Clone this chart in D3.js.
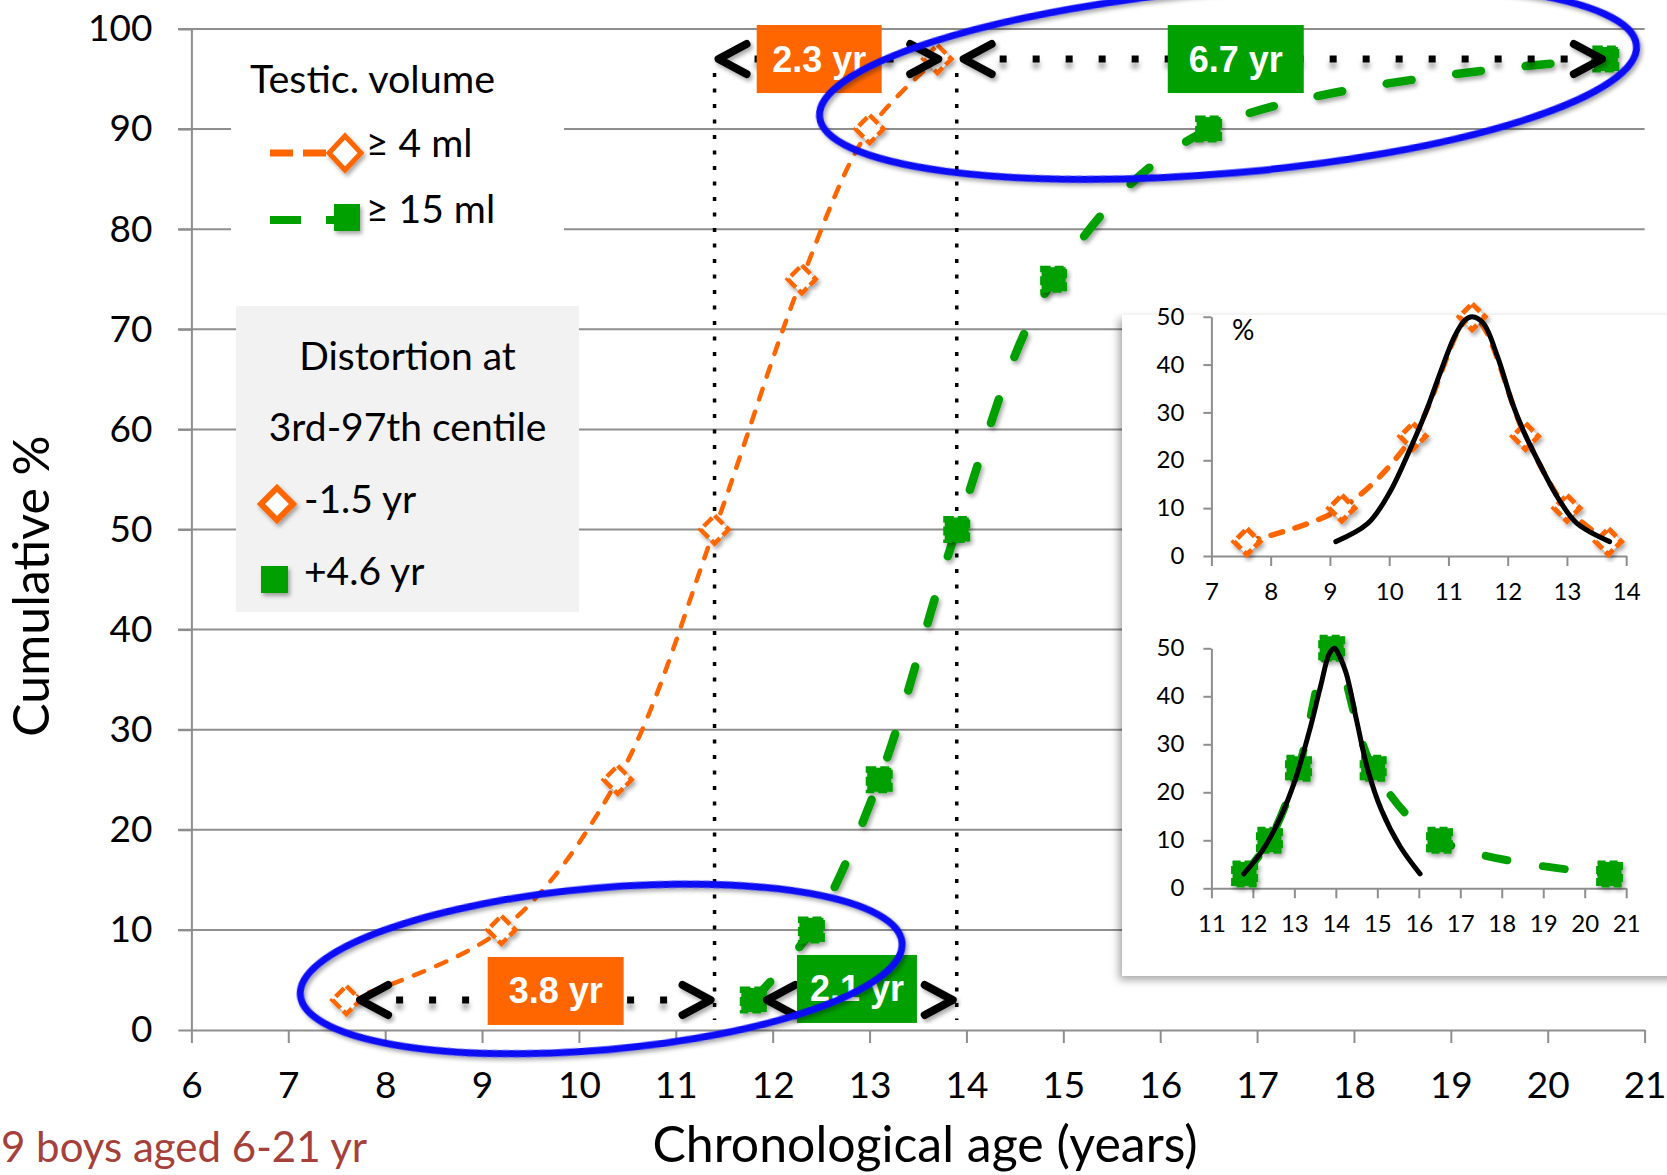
<!DOCTYPE html>
<html><head><meta charset="utf-8">
<script src="https://cdn.jsdelivr.net/npm/d3@7"></script>
<style>
body{margin:0;background:#fff;overflow:hidden}
svg{display:block;font-family:Lato,"Open Sans",sans-serif}
</style>
</head><body>
<svg id="c" width="1667" height="1175"></svg>
<script>
// ---------------- DATA ----------------
const ages4   = [7.6, 9.2, 10.4, 11.4, 12.3, 13.0, 13.7];   // testicular volume >= 4 ml
const cum4    = [3, 10, 25, 50, 75, 90, 97];
const dist4   = [3, 10, 25, 50, 25, 10, 3];
const ages15  = [11.8, 12.4, 13.1, 13.9, 14.9, 16.5, 20.6]; // testicular volume >= 15 ml
const cum15   = [3, 10, 25, 50, 75, 90, 97];
const dist15  = [3, 10, 25, 50, 25, 10, 3];
// fitted (symmetric) curves in the insets
const fitAges4  = [9.1, 9.64, 10.0, 10.37, 10.61, 10.86, 11.1, 11.28, 11.4, 11.59, 11.83, 12.08, 12.26, 12.56, 12.87, 13.17, 13.72];
const fitVals4  = [3, 6.8, 13.1, 22.8, 29.8, 38.2, 45.8, 49.3, 50, 48.6, 41.6, 31.9, 26.3, 18.7, 11.7, 6.8, 3];
const fitAges15 = [11.78, 12.24, 12.67, 13.02, 13.37, 13.63, 13.85, 13.97, 14.08, 14.25, 14.5, 14.77, 15.1, 15.55, 16.03];
const fitVals15 = [3, 8, 14.9, 22.6, 33, 42, 49, 50, 48.5, 44.8, 35, 24.7, 16.3, 8.7, 3];
// span annotations: from age, to age, at cumulative %
const spanFrom  = [7.7, 11.9, 11.4, 13.93];
const spanTo    = [11.4, 13.9, 13.75, 20.6];
const spanLevel = [3, 3, 97, 97];
const spanLabel = ["3.8 yr", "2.1 yr", "2.3 yr", "6.7 yr"];
const spanColor = ["orange", "green", "orange", "green"];
const guideAges = [11.4, 13.9];
// ticks
const xTicks   = [6,7,8,9,10,11,12,13,14,15,16,17,18,19,20,21];
const yTicks   = [0,10,20,30,40,50,60,70,80,90,100];
const in1XTicks = [7,8,9,10,11,12,13,14];
const in2XTicks = [11,12,13,14,15,16,17,18,19,20,21];
const inYTicks  = [0,10,20,30,40,50];
// texts
const legendTitle = "Testic. volume";
const legendItems = ["\u2265 4 ml", "\u2265 15 ml"];
const boxLines = ["Distortion at", "3rd-97th centile"];
const boxItems = ["-1.5 yr", "+4.6 yr"];
const xTitle = "Chronological age (years)";
const yTitle = "Cumulative %";
const footText = "9 boys aged 6-21 yr";

// ---------------- STYLE / LAYOUT ----------------
const ORANGE = "#ff6600", GREEN = "#00a000", BLUE = "#0b0bf5", GRID = "#8e8e8e";
const COL = {orange: ORANGE, green: GREEN};
const FONT = "Lato, 'Open Sans', sans-serif";

const svg = d3.select("#c");
const defs = svg.append("defs");
function shadow(id, dx, dy, sd, op, user) {
  const f = defs.append("filter").attr("id", id);
  if (user) f.attr("filterUnits", "userSpaceOnUse").attr("x", -100).attr("y", -100).attr("width", 1900).attr("height", 1400);
  else f.attr("x", "-30%").attr("y", "-30%").attr("width", "160%").attr("height", "160%");
  f.append("feDropShadow").attr("dx", dx).attr("dy", dy).attr("stdDeviation", sd)
    .attr("flood-color", "#000").attr("flood-opacity", op);
}
shadow("sh", 2, 3, 2, 0.35);
shadow("shBox", -3, 4, 4, 0.35);
shadow("shDots", 0, 6, 2.5, 0.35, true);

const x = d3.scaleLinear().domain([6, 21]).range([191.4, 1644.6]);
const y = d3.scaleLinear().domain([0, 100]).range([1030, 29]);
const intFmt = d3.format("d");

// gridlines
svg.append("g").selectAll("line").data(yTicks.filter(d => d > 0)).join("line")
  .attr("x1", 178).attr("x2", x(21)).attr("y1", d => y(d)).attr("y2", d => y(d))
  .attr("stroke", GRID).attr("stroke-width", 2);

// axes
const yAxis = svg.append("g").attr("transform", `translate(${x(6)},0)`)
  .call(d3.axisLeft(y).tickValues(yTicks).tickFormat(intFmt).tickSize(13).tickPadding(26).tickSizeOuter(0));
const xAxis = svg.append("g").attr("transform", `translate(0,${y(0)})`)
  .call(d3.axisBottom(x).tickValues(xTicks).tickFormat(intFmt).tickSize(13).tickPadding(29).tickSizeOuter(0));
[yAxis, xAxis].forEach(g => {
  g.select(".domain").attr("stroke", GRID).attr("stroke-width", 2);
  g.selectAll(".tick line").attr("stroke", GRID).attr("stroke-width", 2);
  g.selectAll(".tick text").attr("font-family", FONT).attr("font-size", 37).attr("fill", "#000");
});

// axis titles
svg.append("text").attr("x", 925).attr("y", 1162).attr("text-anchor", "middle")
  .attr("font-family", FONT).attr("font-size", 50).text(xTitle);
svg.append("text").attr("transform", "translate(49,586) rotate(-90)").attr("text-anchor", "middle")
  .attr("font-family", FONT).attr("font-size", 50).text(yTitle);
svg.append("text").attr("x", 1).attr("y", 1162).attr("font-family", FONT)
  .attr("font-size", 42).attr("fill", "#a5403a").text(footText);

// legend (white backing over grid)
svg.append("rect").attr("x", 231).attr("y", 45).attr("width", 333).attr("height", 240).attr("fill", "#fff");
svg.append("text").attr("x", 250).attr("y", 93).attr("font-family", FONT).attr("font-size", 39.5).text(legendTitle);
svg.append("line").attr("x1", 270).attr("x2", 330).attr("y1", 153).attr("y2", 153)
  .attr("stroke", ORANGE).attr("stroke-width", 7).attr("stroke-dasharray", "23,10");
svg.append("path").attr("d", "M0,-17L16,0L0,17L-16,0Z").attr("transform", "translate(345,153)")
  .attr("fill", "#fff").attr("stroke", ORANGE).attr("stroke-width", 5).attr("filter", "url(#sh)");
svg.append("line").attr("x1", 270).attr("x2", 336).attr("y1", 220).attr("y2", 220)
  .attr("stroke", GREEN).attr("stroke-width", 8).attr("stroke-dasharray", "31,25");
svg.append("rect").attr("x", 334).attr("y", 204).attr("width", 26).attr("height", 27)
  .attr("fill", GREEN).attr("filter", "url(#sh)");
legendItems.forEach((t, i) => svg.append("text").attr("x", 366).attr("y", [157, 223][i])
  .attr("font-family", FONT).attr("font-size", 39).text(t));

// grey distortion box
svg.append("rect").attr("x", 236).attr("y", 306).attr("width", 343).attr("height", 306).attr("fill", "#f2f2f2");
boxLines.forEach((t, i) => svg.append("text").attr("x", 407.5).attr("y", [370, 441][i])
  .attr("text-anchor", "middle").attr("font-family", FONT).attr("font-size", 39).text(t));
svg.append("path").attr("d", "M0,-16L16,0L0,16L-16,0Z").attr("transform", "translate(277,504)")
  .attr("fill", "#fff").attr("stroke", ORANGE).attr("stroke-width", 6).attr("filter", "url(#sh)");
svg.append("rect").attr("x", 261).attr("y", 566).attr("width", 27).attr("height", 27)
  .attr("fill", GREEN).attr("filter", "url(#sh)");
boxItems.forEach((t, i) => svg.append("text").attr("x", 304).attr("y", [513, 585][i])
  .attr("font-family", FONT).attr("font-size", 39).text(t));

// vertical dotted guides
svg.append("g").selectAll("line").data(guideAges).join("line")
  .attr("x1", d => x(d)).attr("x2", d => x(d)).attr("y1", y(95.6)).attr("y2", y(1))
  .attr("stroke", "#000").attr("stroke-width", 3.5).attr("stroke-dasharray", "4,11.5");

// main series
const line = d3.line().curve(d3.curveCatmullRom.alpha(0.5)).x(d => x(d[0])).y(d => y(d[1]));
const s4 = ages4.map((a, i) => [a, cum4[i]]);
const s15 = ages15.map((a, i) => [a, cum15[i]]);
svg.append("path").datum(s4).attr("d", line).attr("fill", "none").attr("stroke", ORANGE)
  .attr("stroke-width", 4.5).attr("stroke-dasharray", "11,13").attr("stroke-linecap", "round");
svg.append("path").datum(s15).attr("d", line).attr("fill", "none").attr("stroke", GREEN)
  .attr("stroke-width", 8.5).attr("stroke-dasharray", "25,45").attr("stroke-linecap", "round")
  .attr("filter", "url(#sh)");
svg.append("g").selectAll("path").data(s4).join("path")
  .attr("d", "M0,-14L14,0L0,14L-14,0Z")
  .attr("transform", d => `translate(${x(d[0])},${y(d[1])})`)
  .attr("fill", "#fff").attr("stroke", ORANGE).attr("stroke-width", 4.5)
  .attr("stroke-dasharray", "12,4").attr("filter", "url(#sh)");
svg.append("g").selectAll("rect").data(s15).join("rect")
  .attr("x", d => x(d[0]) - 12).attr("y", d => y(d[1]) - 12).attr("width", 24).attr("height", 24)
  .attr("fill", GREEN).attr("stroke", GREEN).attr("stroke-width", 3).attr("stroke-dasharray", "9,4")
  .attr("filter", "url(#sh)");

// span arrows
const spans = spanFrom.map((f, i) => ({f, t: spanTo[i], lv: spanLevel[i], lab: spanLabel[i], c: COL[spanColor[i]]}));
const gA = svg.append("g");
spans.forEach(s => {
  const x0 = x(s.f), x1 = x(s.t), yy = y(s.lv);
  gA.append("line").attr("x1", x0 + 40).attr("x2", x1 - 28).attr("y1", yy).attr("y2", yy)
    .attr("stroke", "#000").attr("stroke-width", 7).attr("stroke-dasharray", "7,26")
    .attr("filter", "url(#shDots)");
  gA.append("path").attr("d", `M${x0 + 32},${yy - 15}L${x0 + 4},${yy}L${x0 + 32},${yy + 15}`)
    .attr("fill", "none").attr("stroke", "#000").attr("stroke-width", 8)
    .attr("stroke-linecap", "round").attr("stroke-linejoin", "round").attr("filter", "url(#sh)");
  gA.append("path").attr("d", `M${x1 - 32},${yy - 15}L${x1 - 4},${yy}L${x1 - 32},${yy + 15}`)
    .attr("fill", "none").attr("stroke", "#000").attr("stroke-width", 8)
    .attr("stroke-linecap", "round").attr("stroke-linejoin", "round").attr("filter", "url(#sh)");
});
// label boxes (layout: centre age, centre %, width)
const boxPos = [[9.76, 3.9, 136], [12.87, 4.1, 120], [12.48, 97, 125], [16.78, 97, 136]];
spans.forEach((s, i) => {
  const [cx, cy, w] = boxPos[i];
  svg.append("rect").attr("x", x(cx) - w / 2).attr("y", y(cy) - 34).attr("width", w).attr("height", 68).attr("fill", s.c);
  svg.append("text").attr("x", x(cx)).attr("y", y(cy) + 12.5).attr("text-anchor", "middle")
    .attr("font-family", "'Liberation Sans', Arial, sans-serif").attr("font-weight", "bold")
    .attr("font-size", 36).attr("fill", "#fff").text(s.lab);
});

// blue ellipses (centre age, centre %, rx, ry)
const ellipses = [[16.7, 94.8, 410, 92], [10.23, 6.1, 302, 81]];
svg.append("g").selectAll("ellipse").data(ellipses).join("ellipse")
  .attr("transform", d => `translate(${x(d[0])},${y(d[1])}) rotate(-5)`)
  .attr("rx", d => d[2]).attr("ry", d => d[3])
  .attr("fill", "none").attr("stroke", BLUE).attr("stroke-width", 7).attr("filter", "url(#sh)");

// ---------------- INSETS ----------------
svg.append("rect").attr("x", 1122).attr("y", 315).attr("width", 600).attr("height", 661)
  .attr("fill", "#fff").attr("filter", "url(#shBox)");

function inset(x0, x1, xt, y0, y1, ages, vals, fa, fv, color, kind) {
  const ix = d3.scaleLinear().domain([x0, x1]).range([1211.4, 1626.2]);
  const iy = d3.scaleLinear().domain([0, 50]).range([y0, y1]);
  const g = svg.append("g");
  const ya = g.append("g").attr("transform", `translate(${ix(x0)},0)`)
    .call(d3.axisLeft(iy).tickValues(inYTicks).tickFormat(intFmt).tickSize(8).tickPadding(19).tickSizeOuter(0));
  const xa = g.append("g").attr("transform", `translate(0,${iy(0)})`)
    .call(d3.axisBottom(ix).tickValues(xt).tickFormat(intFmt).tickSize(10).tickPadding(17).tickSizeOuter(0));
  [ya, xa].forEach(a => {
    a.select(".domain").attr("stroke", GRID).attr("stroke-width", 2);
    a.selectAll(".tick line").attr("stroke", GRID).attr("stroke-width", 2);
    a.selectAll(".tick text").attr("font-family", FONT).attr("font-size", 24).attr("fill", "#000");
  });
  const ln = d3.line().curve(d3.curveCatmullRom.alpha(0.5)).x(d => ix(d[0])).y(d => iy(d[1]));
  const pts = ages.map((a, i) => [a, vals[i]]);
  if (kind === "d") {
    g.append("path").datum(pts).attr("d", ln).attr("fill", "none").attr("stroke", color)
      .attr("stroke-width", 5.5).attr("stroke-dasharray", "12,13").attr("stroke-linecap", "round");
    g.selectAll(".m").data(pts).join("path")
      .attr("d", "M0,-13L13,0L0,13L-13,0Z")
      .attr("transform", d => `translate(${ix(d[0])},${iy(d[1])})`)
      .attr("fill", "#fff").attr("stroke", color).attr("stroke-width", 5)
      .attr("stroke-dasharray", "11,4").attr("filter", "url(#sh)");
  } else {
    g.append("path").datum(pts).attr("d", ln).attr("fill", "none").attr("stroke", color)
      .attr("stroke-width", 8).attr("stroke-dasharray", "22,36").attr("stroke-linecap", "round");
    g.selectAll(".m").data(pts).join("rect")
      .attr("x", d => ix(d[0]) - 12).attr("y", d => iy(d[1]) - 12).attr("width", 24).attr("height", 24)
      .attr("fill", color).attr("stroke", color).attr("stroke-width", 3).attr("stroke-dasharray", "8,4")
      .attr("filter", "url(#sh)");
  }
  const fit = fa.map((a, i) => [a, fv[i]]);
  g.append("path").datum(fit).attr("d", ln).attr("fill", "none").attr("stroke", "#000")
    .attr("stroke-width", 5).attr("stroke-linecap", "round");
  return g;
}
inset(7, 14, in1XTicks, 556, 316.7, ages4, dist4, fitAges4, fitVals4, ORANGE, "d");
inset(11, 21, in2XTicks, 888.3, 648.3, ages15, dist15, fitAges15, fitVals15, GREEN, "s");
svg.append("text").attr("x", 1232).attr("y", 340).attr("font-family", FONT).attr("font-size", 28).text("%");
</script>
</body></html>
